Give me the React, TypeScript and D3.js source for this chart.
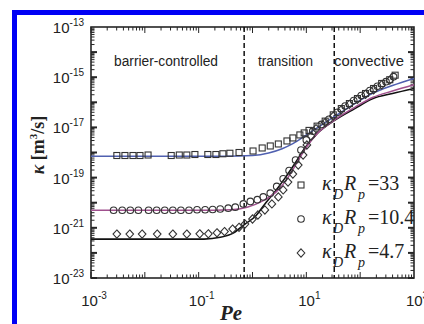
import React from "react";
import * as d3 from "d3";

// Data, stored as log10 values (Pe, kappa)
const sqLogPe = [-2.52,-2.37,-2.22,-2.09,-1.94,-1.51,-1.36,-1.22,-1.07,-0.83,-0.68,-0.55,-0.42,-0.25,0.01,0.18,0.33,0.48,0.64,0.75,0.88,0.96,1.05,1.2,1.35,1.5,1.65,1.8,1.95,2.1,2.25,2.4,2.55,2.65];
const sqLogK = [-18.12,-18.12,-18.12,-18.12,-18.1,-18.12,-18.1,-18.1,-18.08,-18.08,-18.08,-18.05,-18.03,-18.0,-17.94,-17.82,-17.74,-17.66,-17.54,-17.42,-17.3,-17.22,-17.12,-16.95,-16.75,-16.5,-16.25,-16.05,-15.85,-15.65,-15.45,-15.25,-15.1,-14.92];

const ciLogPe = [-2.58,-2.42,-2.27,-2.12,-1.93,-1.78,-1.63,-1.48,-1.33,-1.18,-1.03,-0.88,-0.74,-0.6,-0.45,-0.32,-0.17,-0.04,0.09,0.2,0.33,0.45,0.57,0.68,0.8,0.9,1.0,1.12,1.28,1.42,1.58,1.72,1.88,2.02,2.18,2.32,2.48,2.62];
const ciLogK = [-20.3,-20.3,-20.3,-20.3,-20.3,-20.3,-20.3,-20.3,-20.3,-20.3,-20.28,-20.28,-20.27,-20.25,-20.22,-20.18,-20.05,-19.95,-19.88,-19.77,-19.62,-19.35,-19.05,-18.72,-18.3,-17.9,-17.5,-17.15,-16.88,-16.68,-16.4,-16.15,-15.93,-15.73,-15.53,-15.36,-15.18,-14.98];

const diLogPe = [-2.52,-2.28,-2.05,-1.77,-1.48,-1.22,-0.98,-0.82,-0.66,-0.52,-0.37,-0.25,-0.14,0.0,0.1,0.23,0.36,0.48,0.57,0.66,0.75,0.85,0.94,1.01,1.09,1.18,1.35,1.5,1.65,1.8,1.95,2.1,2.25,2.4,2.55];
const diLogK = [-21.25,-21.25,-21.25,-21.25,-21.25,-21.25,-21.24,-21.24,-21.2,-21.15,-21.05,-20.98,-20.85,-20.65,-20.49,-20.29,-20.05,-19.77,-19.49,-19.18,-18.86,-18.5,-18.1,-17.7,-17.35,-17.05,-16.8,-16.55,-16.3,-16.08,-15.88,-15.68,-15.5,-15.3,-15.12];

// Fitted curves
const blueLogPe = [-3,-1,-0.5,0.0,0.3,0.55,0.75,1.0,1.25,1.57,1.9,2.24,2.6,3];
const blueLogK = [-18.15,-18.15,-18.15,-18.12,-18.02,-17.85,-17.65,-17.3,-16.95,-16.5,-16.05,-15.63,-15.33,-15.05];
const pinkLogPe = [-3,-1,-0.4,-0.1,0.2,0.45,0.61,0.8,0.98,1.2,1.54,1.9,2.24,2.6,3];
const pinkLogK = [-20.3,-20.3,-20.28,-20.18,-19.92,-19.55,-19.15,-18.5,-17.85,-17.25,-16.68,-16.2,-15.8,-15.55,-15.3];
const blackLogPe = [-3,-0.9,-0.6,-0.35,-0.14,0.05,0.23,0.42,0.61,0.8,0.98,1.2,1.54,1.9,2.24,2.6,3];
const blackLogK = [-21.45,-21.45,-21.38,-21.2,-20.85,-20.55,-20.05,-19.55,-19.0,-18.4,-17.8,-17.25,-16.7,-16.25,-15.85,-15.65,-15.45];

const xTickExps = [-3, -1, 1, 3];
const yTickExps = [-13, -15, -17, -19, -21, -23];
const regionLabels = ["barrier-controlled", "transition", "convective"];
const regionBounds = [0.7, 33]; // Pe at the dashed lines
const legendValues = ["33", "10.4", "4.7"];

const W = 424, H = 324;
const L = 91, R = 414, T = 27, B = 278;

export default function App() {
  const x = d3.scaleLog().domain([1e-3, 1e3]).range([L, R]);
  const y = d3.scaleLog().domain([1e-23, 1e-13]).range([B, T]);
  const px = (lp: number) => x(Math.pow(10, lp));
  const py = (lk: number) => y(Math.pow(10, lk));

  const line = d3.line<[number, number]>()
    .x((d) => px(d[0]))
    .y((d) => py(d[1]))
    .curve(d3.curveMonotoneX);

  const zip = (a: number[], b: number[]) => a.map((v, i) => [v, b[i]] as [number, number]);

  const ink = "#262626";
  const xMinor: number[] = [];
  for (let e = -3; e < 3; e++) for (let m = 1; m < 10; m++) xMinor.push(m * Math.pow(10, e));
  const yMinor: number[] = [];
  for (let e = -23; e < -13; e++) for (let m = 1; m < 10; m++) yMinor.push(m * Math.pow(10, e));

  const sym = { fill: "none", stroke: "#333", strokeWidth: 1.1 };
  const square = (cx: number, cy: number, k: string) => (
    <rect key={k} x={cx - 3} y={cy - 3} width={6} height={6} {...sym} />
  );
  const circle = (cx: number, cy: number, k: string) => (
    <circle key={k} cx={cx} cy={cy} r={3.3} {...sym} />
  );
  const diamond = (cx: number, cy: number, k: string) => (
    <path key={k} d={`M${cx},${cy - 4.1}L${cx + 3.8},${cy}L${cx},${cy + 4.1}L${cx - 3.8},${cy}Z`} {...sym} />
  );
  const symbols = [square, circle, diamond];

  return (
    <svg width={W} height={H} style={{ position: "absolute", left: 0, top: 0, background: "#fff" }}>
      <rect x={0} y={0} width={W} height={H} fill="#fff" />
      {/* blue frame */}
      <rect x={12} y={10} width={W - 12} height={5} fill="#0000f5" />
      <rect x={12} y={10} width={5} height={H - 10} fill="#0000f5" />

      {/* ticks */}
      <g stroke={ink} strokeWidth={1}>
        {xMinor.map((v, i) => {
          const major = Math.abs(Math.log10(v) - Math.round(Math.log10(v))) < 1e-9;
          const len = major ? 6 : 3.5;
          return (
            <g key={"xt" + i}>
              <line x1={x(v)} x2={x(v)} y1={B} y2={B - len} />
              <line x1={x(v)} x2={x(v)} y1={T} y2={T + len} />
            </g>
          );
        })}
        {yMinor.map((v, i) => {
          const major = Math.abs(Math.log10(v) - Math.round(Math.log10(v))) < 1e-9;
          const len = major ? 6 : 3.5;
          const sw = major ? 2 : 1;
          return (
            <g key={"yt" + i} strokeWidth={sw}>
              <line x1={L} x2={L + len} y1={y(v)} y2={y(v)} />
              <line x1={R} x2={R - len} y1={y(v)} y2={y(v)} />
            </g>
          );
        })}
      </g>
      <rect x={L} y={T} width={R - L} height={B - T} fill="none" stroke={ink} strokeWidth={1.6} />

      {/* dashed region lines */}
      {regionBounds.map((v, i) => (
        <line key={"d" + i} x1={x(v)} x2={x(v)} y1={T} y2={B} stroke="#111" strokeWidth={1.5} strokeDasharray="5,3" />
      ))}

      {/* region labels */}
      <g fontFamily="Liberation Sans, Arial, sans-serif" fontSize={14} fill="#222">
        <text x={114} y={66} textLength={104} lengthAdjust="spacingAndGlyphs">{regionLabels[0]}</text>
        <text x={258} y={66} textLength={55} lengthAdjust="spacingAndGlyphs">{regionLabels[1]}</text>
        <text x={334} y={66} textLength={70} lengthAdjust="spacingAndGlyphs">{regionLabels[2]}</text>
      </g>

      {/* fitted curves */}
      <path d={line(zip(blackLogPe, blackLogK)) || ""} fill="none" stroke="#111" strokeWidth={1.6} />
      <path d={line(zip(pinkLogPe, pinkLogK)) || ""} fill="none" stroke="#a0508e" strokeWidth={1.5} />
      <path d={line(zip(blueLogPe, blueLogK)) || ""} fill="none" stroke="#5060b0" strokeWidth={1.5} />

      {/* data symbols */}
      {sqLogPe.map((p, i) => square(px(p), py(sqLogK[i]), "s" + i))}
      {ciLogPe.map((p, i) => circle(px(p), py(ciLogK[i]), "c" + i))}
      {diLogPe.map((p, i) => diamond(px(p), py(diLogK[i]), "di" + i))}

      {/* tick labels */}
      <g fontFamily="Liberation Sans, Arial, sans-serif" fill="#222">
        {yTickExps.map((e) => (
          <text key={"yl" + e} x={84} y={y(Math.pow(10, e)) + 6} textAnchor="end" fontSize={15}>
            10<tspan dy={-7} fontSize={10}>{e}</tspan>
          </text>
        ))}
        {xTickExps.map((e) => (
          <text key={"xl" + e} x={x(Math.pow(10, e)) + 3} y={306} textAnchor="middle" fontSize={15}>
            10<tspan dy={-7} fontSize={10}>{e}</tspan>
          </text>
        ))}
      </g>

      {/* axis titles */}
      <text x={231} y={320} textAnchor="middle" fontFamily="Liberation Serif, Times New Roman, serif" fontWeight="bold" fontStyle="italic" fontSize={21} fill="#222">Pe</text>
      <text transform="translate(44,145) rotate(-90)" textAnchor="middle" fontFamily="Liberation Serif, Times New Roman, serif" fontWeight="bold" fontSize={18} fill="#222">
        <tspan fontStyle="italic">κ</tspan> [m<tspan dy={-7} fontSize={11}>3</tspan><tspan dy={7}>/s]</tspan>
      </text>

      {/* legend */}
      {legendValues.map((v, i) => {
        const cy = 185 + i * 34;
        const base = cy + 5;
        return (
          <g key={"lg" + i}>
            {symbols[i](301, cy, "ls" + i)}
            <g fontFamily="Liberation Serif, Times New Roman, serif" fill="#222">
              <text x={322} y={base} fontSize={20} fontStyle="italic">κ</text>
              <text x={333} y={base + 9} fontSize={14} fontStyle="italic">D</text>
              <text x={344} y={base} fontSize={20} fontStyle="italic">R</text>
              <text x={358} y={base + 9} fontSize={14} fontStyle="italic">p</text>
              <text x={368} y={base} fontSize={20}>={v}</text>
            </g>
          </g>
        );
      })}
    </svg>
  );
}
